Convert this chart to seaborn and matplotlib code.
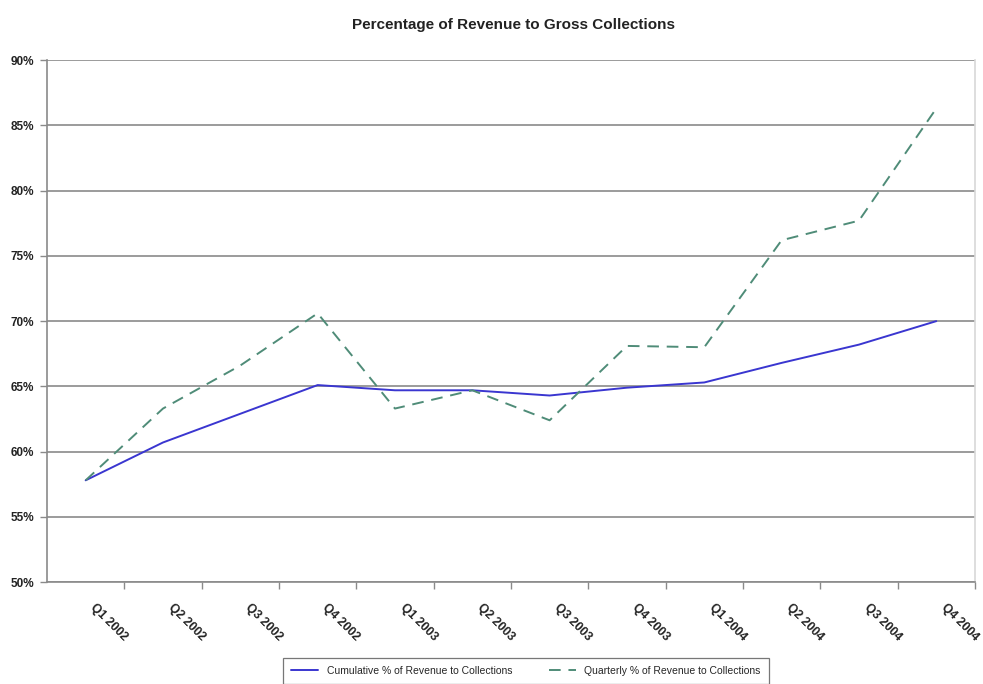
import matplotlib
matplotlib.use("Agg")
import matplotlib.pyplot as plt
import matplotlib.transforms as mtransforms
import seaborn as sns
import pandas as pd
from matplotlib.ticker import FuncFormatter, MultipleLocator

quarters = ["Q1 2002", "Q2 2002", "Q3 2002", "Q4 2002",
            "Q1 2003", "Q2 2003", "Q3 2003", "Q4 2003",
            "Q1 2004", "Q2 2004", "Q3 2004", "Q4 2004"]
cumulative = [57.8, 60.7, 62.9, 65.1, 64.7, 64.7, 64.3, 64.9, 65.3, 66.8, 68.2, 70.0]
quarterly = [57.8, 63.3, 66.6, 70.6, 63.3, 64.7, 62.4, 68.1, 68.0, 76.2, 77.7, 86.3]
series_names = ["Cumulative % of Revenue to Collections",
                "Quarterly % of Revenue to Collections"]

sns.set_theme(style="white")
plt.rcParams["font.family"] = ["Liberation Sans", "DejaVu Sans"]

fig = plt.figure(figsize=(9.83, 6.84), dpi=100)
ax = fig.add_axes([0.0478, 0.149, 0.944, 0.763])

df_c = pd.DataFrame({"q": quarters, "v": cumulative})
df_q = pd.DataFrame({"q": quarters, "v": quarterly})
sns.lineplot(data=df_c, x="q", y="v", ax=ax, color="#3a36d0", lw=1.4,
             label=series_names[0], sort=False)
sns.lineplot(data=df_q, x="q", y="v", ax=ax, color="#4f8c78", lw=1.4,
             linestyle=(0, (6, 4)), label=series_names[1], sort=False)

ax.set_xlim(-0.5, len(quarters) - 0.5)
ax.set_ylim(50, 90)
ax.yaxis.set_major_locator(MultipleLocator(5))
ax.yaxis.set_major_formatter(FuncFormatter(lambda v, p: f"{int(round(v))}%"))
ax.set_xlabel("")
ax.set_ylabel("")

ax.grid(axis="y", color="#8a8a8a", lw=1.2)
ax.set_axisbelow(True)

ax.spines["top"].set_visible(False)
ax.spines["left"].set_color("#8a8a8a")
ax.spines["left"].set_linewidth(1.2)
ax.spines["bottom"].set_color("#8a8a8a")
ax.spines["bottom"].set_linewidth(1.2)
ax.spines["right"].set_color("#d8d8d8")
ax.spines["right"].set_linewidth(1.2)

ax.tick_params(axis="y", which="major", left=True, length=5, width=1.0,
               color="#8a8a8a", labelsize=8.5, pad=4)
ax.set_xticks(range(len(quarters)))
ax.set_xticklabels(quarters)
for lab in ax.get_yticklabels():
    lab.set_fontweight("bold")
    lab.set_color("#222222")
ax.set_xticks([i + 0.5 for i in range(len(quarters))], minor=True)
ax.tick_params(axis="x", which="minor", bottom=True, length=5, width=1.0,
               color="#8a8a8a")
ax.tick_params(axis="x", which="major", bottom=False, labelsize=8.8, pad=8)
offset = mtransforms.ScaledTranslation(8 / 72, 0, fig.dpi_scale_trans)
for lab in ax.get_xticklabels():
    lab.set_rotation(-45)
    lab.set_ha("left")
    lab.set_va("top")
    lab.set_rotation_mode("anchor")
    lab.set_fontweight("bold")
    lab.set_color("#222222")
    lab.set_transform(lab.get_transform() + offset)

fig.text(0.522, 0.963, "Percentage of Revenue to Gross Collections",
         ha="center", va="center", fontsize=11, fontweight="bold",
         color="#222222")

leg = ax.legend(loc="upper center", bbox_to_anchor=(0.535, 0.046),
                bbox_transform=fig.transFigure, ncol=2, fontsize=7.5,
                frameon=True, fancybox=False, edgecolor="#555555",
                handlelength=2.6, columnspacing=3.5, borderpad=0.8)
leg.get_frame().set_linewidth(0.9)

fig.savefig("out.png", dpi=100)
